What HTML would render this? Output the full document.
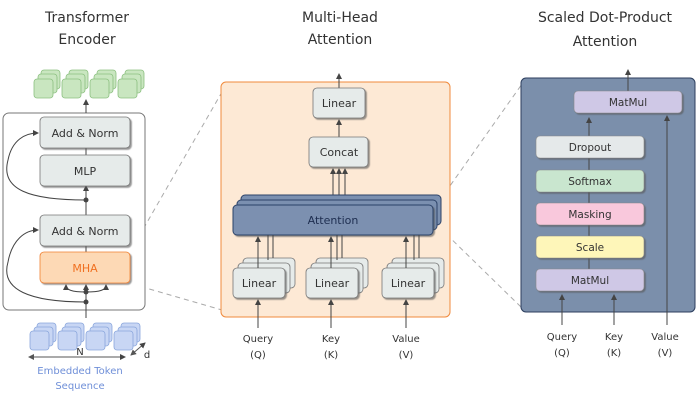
<!DOCTYPE html>
<html><head><style>
html,body{margin:0;padding:0;background:#fff;}
svg text{font-family:"DejaVu Sans","Liberation Sans",sans-serif;fill:#333;text-anchor:middle;}
</style></head><body>
<svg width="700" height="401" viewBox="0 0 700 401" xmlns="http://www.w3.org/2000/svg">
<defs>
<marker id="a" markerWidth="6" markerHeight="6" refX="5" refY="3" orient="auto"><path d="M0,0 L6,3 L0,6z" fill="#444"/></marker>
<marker id="b" markerWidth="6" markerHeight="6" refX="1" refY="3" orient="auto"><path d="M6,0 L0,3 L6,6z" fill="#555"/></marker>
<filter id="sh"><feDropShadow dx="1.5" dy="1.5" stdDeviation="0.6" flood-color="#555" flood-opacity="0.6"/></filter>
</defs>
<g font-size="14">
<text x="87" y="22">Transformer</text><text x="87" y="44">Encoder</text>
<text x="340" y="22">Multi-Head</text><text x="340" y="44">Attention</text>
<text x="605" y="22">Scaled Dot-Product</text><text x="605" y="46">Attention</text>
</g>
<g stroke="#aaa" stroke-dasharray="5,4" fill="none">
<line x1="130" y1="252" x2="222" y2="92"/><line x1="132" y1="284" x2="222" y2="310"/>
<line x1="440" y1="200" x2="522" y2="84"/><line x1="440" y1="228" x2="522" y2="308"/>
</g>
<!-- LEFT -->
<g fill="#c9e6c0" stroke="#8cc080" stroke-width="0.8">
<g id="gc"><rect x="41" y="70" width="19" height="19" rx="3"/><rect x="38" y="74" width="19" height="19" rx="3"/><rect x="34" y="79" width="19" height="19" rx="3"/></g>
<use href="#gc" x="28"/><use href="#gc" x="56"/><use href="#gc" x="84"/>
</g>
<rect x="3" y="113" width="142" height="197" rx="6" fill="#fff" stroke="#777"/>
<g stroke="#444" fill="none" stroke-width="1">
<line x1="86" y1="113" x2="86" y2="100" marker-end="url(#a)"/>
<line x1="86" y1="155" x2="86" y2="148"/>
<line x1="86" y1="215" x2="86" y2="186" marker-end="url(#a)"/>
<line x1="86" y1="252" x2="86" y2="246"/>
<line x1="86" y1="318" x2="86" y2="285" marker-end="url(#a)"/>
<path d="M86,200 C30,200 0,190 8,160 C12,140 25,133 38,133" marker-end="url(#a)"/>
<path d="M86,302 C30,302 0,290 8,262 C12,240 25,230 38,230" marker-end="url(#a)"/>
<path d="M86,292 C72,292 66,290 66,285" marker-end="url(#a)"/>
<path d="M86,292 C100,292 106,290 106,285" marker-end="url(#a)"/>
</g>
<g fill="#444"><circle cx="86" cy="200" r="2.5"/><circle cx="86" cy="292" r="2.5"/><circle cx="86" cy="302" r="2.5"/></g>
<g filter="url(#sh)" stroke="#777" stroke-width="0.8">
<rect x="40" y="117" width="90" height="31" rx="4" fill="#e6ebea"/>
<rect x="40" y="155" width="90" height="31" rx="4" fill="#e6ebea"/>
<rect x="40" y="215" width="90" height="31" rx="4" fill="#e6ebea"/>
<rect x="40" y="252" width="90" height="31" rx="4" fill="#fdd9b5" stroke="#f08030"/>
</g>
<g font-size="11">
<text x="85" y="137">Add &amp; Norm</text><text x="85" y="175">MLP</text>
<text x="85" y="235">Add &amp; Norm</text><text x="85" y="272" style="fill:#f07020">MHA</text>
</g>
<g fill="#c8d6f4" stroke="#8aa6dc" stroke-width="0.8">
<g id="bc"><rect x="37" y="323" width="19" height="19" rx="3"/><rect x="34" y="327" width="19" height="19" rx="3"/><rect x="30" y="331" width="19" height="19" rx="3"/></g>
<use href="#bc" x="28"/><use href="#bc" x="56"/><use href="#bc" x="84"/>
</g>
<g stroke="#555" fill="none"><line x1="29" y1="357" x2="125" y2="357" marker-start="url(#b)" marker-end="url(#a)"/><line x1="131" y1="355" x2="145" y2="343" marker-start="url(#b)" marker-end="url(#a)"/></g>
<text x="80" y="355" font-size="10">N</text><text x="147" y="358" font-size="10">d</text>
<text x="80" y="374" font-size="10" style="fill:#6f8fd8">Embedded Token</text>
<text x="80" y="389" font-size="10" style="fill:#6f8fd8">Sequence</text>
<!-- MIDDLE -->
<rect x="221" y="82" width="229" height="235" rx="5" fill="#fde9d5" stroke="#f08a3c"/>
<g stroke="#444" fill="none">
<line x1="339" y1="88" x2="339" y2="74" marker-end="url(#a)"/>
<line x1="339" y1="137" x2="339" y2="120" marker-end="url(#a)"/>
<line x1="333" y1="200" x2="333" y2="169" marker-end="url(#a)"/><line x1="339" y1="200" x2="339" y2="169" marker-end="url(#a)"/><line x1="345" y1="200" x2="345" y2="169" marker-end="url(#a)"/>
<line x1="258" y1="328" x2="258" y2="300" marker-end="url(#a)"/>
<line x1="331" y1="328" x2="331" y2="300" marker-end="url(#a)"/>
<line x1="406" y1="328" x2="406" y2="300" marker-end="url(#a)"/>
</g>
<g filter="url(#sh)" stroke="#777" stroke-width="0.8" fill="#e6ebea">
<rect x="313" y="88" width="52" height="30" rx="4"/>
<rect x="309" y="137" width="59" height="30" rx="4"/>
</g>
<g stroke="#2c4268" fill="#7b90b0">
<rect x="241" y="195" width="200" height="30" rx="4"/><rect x="237" y="200" width="200" height="30" rx="4"/>
<rect x="233" y="205" width="200" height="30" rx="4" filter="url(#sh)"/>
</g>
<text x="333" y="224" font-size="11" style="fill:#1e2e50">Attention</text>
<g stroke="#777" stroke-width="0.8" fill="#e6ebea">
<g id="lin"><rect x="243" y="258" width="52" height="30" rx="4"/><rect x="238" y="263" width="52" height="30" rx="4"/><rect x="233" y="268" width="52" height="30" rx="4" filter="url(#sh)"/></g>
<use href="#lin" x="73"/><use href="#lin" x="149"/>
</g>
<g stroke="#444" fill="none">
<line x1="258" y1="268" x2="258" y2="237" marker-end="url(#a)"/><line x1="268" y1="260" x2="268" y2="235"/><line x1="273" y1="258" x2="273" y2="235"/>
<line x1="331" y1="268" x2="331" y2="237" marker-end="url(#a)"/><line x1="337" y1="260" x2="337" y2="235"/><line x1="342" y1="258" x2="342" y2="235"/>
<line x1="406" y1="268" x2="406" y2="237" marker-end="url(#a)"/><line x1="414" y1="260" x2="414" y2="235"/><line x1="419" y1="258" x2="419" y2="235"/>
</g>
<g font-size="11"><text x="259" y="287">Linear</text><text x="332" y="287">Linear</text><text x="408" y="287">Linear</text>
<text x="339" y="107">Linear</text><text x="339" y="156">Concat</text></g>
<g font-size="10"><text x="258" y="342">Query</text><text x="258" y="358">(Q)</text>
<text x="331" y="342">Key</text><text x="331" y="358">(K)</text>
<text x="406" y="342">Value</text><text x="406" y="358">(V)</text></g>
<!-- RIGHT -->
<rect x="521" y="78" width="174" height="234" rx="5" fill="#7b8fab" stroke="#2c3e5e"/>
<g stroke="#444" fill="none">
<line x1="628" y1="91" x2="628" y2="70" marker-end="url(#a)"/>
<line x1="589" y1="136" x2="589" y2="118" marker-end="url(#a)"/>
<line x1="589" y1="269" x2="589" y2="158"/>
<line x1="562" y1="325" x2="562" y2="295" marker-end="url(#a)"/>
<line x1="614" y1="325" x2="614" y2="295" marker-end="url(#a)"/>
<line x1="667" y1="325" x2="667" y2="116" marker-end="url(#a)"/>
</g>
<g filter="url(#sh)" stroke="#888" stroke-width="0.6">
<rect x="574" y="91" width="108" height="22" rx="4" fill="#cfc8e6"/>
<rect x="536" y="136" width="108" height="22" rx="4" fill="#e5e9ea"/>
<rect x="536" y="170" width="108" height="22" rx="4" fill="#c9e6cf"/>
<rect x="536" y="203" width="108" height="22" rx="4" fill="#f9c8dc"/>
<rect x="536" y="236" width="108" height="22" rx="4" fill="#fef6b9"/>
<rect x="536" y="269" width="108" height="22" rx="4" fill="#cfc8e6"/>
</g>
<g font-size="10.5"><text x="628" y="106">MatMul</text><text x="590" y="151">Dropout</text>
<text x="590" y="185">Softmax</text><text x="590" y="218">Masking</text>
<text x="590" y="251">Scale</text><text x="590" y="284">MatMul</text></g>
<g font-size="10"><text x="562" y="340">Query</text><text x="562" y="356">(Q)</text>
<text x="614" y="340">Key</text><text x="614" y="356">(K)</text>
<text x="665" y="340">Value</text><text x="665" y="356">(V)</text></g>
</svg>
</body></html>
